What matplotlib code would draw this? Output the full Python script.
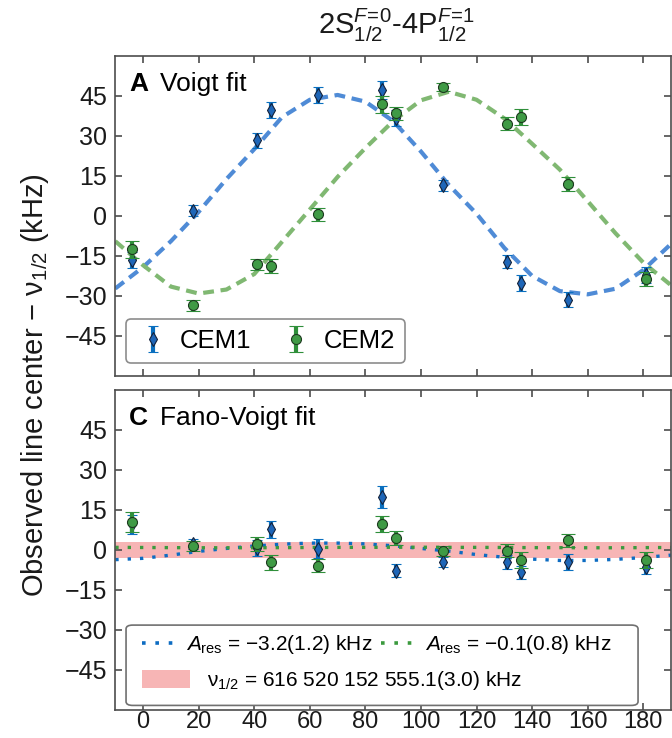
import matplotlib
matplotlib.use('Agg')
import matplotlib.pyplot as plt
from matplotlib.patches import FancyBboxPatch, Patch
from matplotlib.lines import Line2D

plt.rcParams['font.family'] = ['Liberation Sans', 'DejaVu Sans']
plt.rcParams['mathtext.fontset'] = 'custom'
plt.rcParams['mathtext.rm'] = 'Liberation Sans'
plt.rcParams['mathtext.it'] = 'Liberation Sans:italic'
plt.rcParams['mathtext.bf'] = 'Liberation Sans:bold'

# Measurement angles (deg)
angle = [-4, 18, 41, 46, 63, 86, 91, 108, 131, 136, 153, 181]

# Panel A: Voigt fit line centers (kHz)
voigt_cem1 = [-16.7, 1.9, 28.4, 39.6, 45.3, 47.1, 36.5, 11.5, -17.2, -25.1, -31.4, -22.2]
voigt_cem1_err = [3.0, 2.0, 2.8, 3.0, 3.0, 3.4, 3.0, 2.0, 2.5, 3.0, 2.8, 3.0]
voigt_cem2 = [-12.6, -33.5, -18.1, -18.7, 0.6, 41.8, 38.4, 48.1, 34.6, 36.9, 11.9, -23.7]
voigt_cem2_err = [3.3, 2.0, 2.0, 2.6, 2.5, 3.2, 2.5, 1.5, 2.5, 3.0, 2.5, 2.5]

# Panel C: Fano-Voigt fit line centers (kHz)
fano_cem1 = [9.5, 2.2, 0.5, 7.6, 0.4, 19.7, -7.8, -4.6, -4.6, -8.4, -4.6, -6.5]
fano_cem1_err = [3.5, 2.0, 3.0, 3.3, 3.5, 4.0, 2.5, 2.0, 2.5, 2.5, 3.0, 2.5]
fano_cem2 = [10.4, 1.4, 2.2, -4.6, -5.9, 9.5, 4.4, -0.5, -0.3, -4.0, 3.5, -4.0]
fano_cem2_err = [3.9, 2.0, 2.5, 2.8, 2.5, 3.0, 2.5, 2.0, 2.5, 3.0, 2.5, 3.0]

# Fit curves
fit_angle = [-10, 0, 10, 20, 30, 40, 50, 60, 70, 80, 90, 100, 110, 120, 130, 140, 150, 160, 170, 180, 190]
voigt_fit_cem1 = [-27.2, -19.2, -9.5, 1.5, 13.8, 25.0, 37.0, 43.5, 45.3, 42.8, 35.5, 24.1, 11.6, 0.8,
                  -12.0, -22.5, -28.2, -29.4, -27.3, -20.3, -10.5]
voigt_fit_cem2 = [-9.5, -18.5, -26.5, -29.1, -27.6, -21.8, -9.7, 2.4, 14.6, 25.4, 35.5, 43.3, 46.5, 43.5,
                  36.5, 27.0, 17.3, 5.5, -6.5, -17.5, -26.0]
fano_fit_cem1 = [-3.7, -3.2, -2.0, -0.6, 0.5, 1.4, 2.1, 2.5, 2.5, 2.2, 1.5, 0.5, -0.5, -1.8, -2.8, -3.5,
                 -4.0, -4.0, -3.6, -2.9, -2.0]
fano_fit_cem2 = [0.9, 0.85, 0.8, 0.75, 0.75, 0.75, 0.8, 0.85, 0.9, 0.9, 0.95, 0.95, 0.9, 0.9, 0.85, 0.8,
                 0.8, 0.75, 0.75, 0.8, 0.85]

nu_band = 3.0
yticks = [-45, -30, -15, 0, 15, 30, 45]
xticks = [0, 20, 40, 60, 80, 100, 120, 140, 160, 180]

blue = '#0a6fbf'
green = '#2f8f3a'
spine_col = '#4d4d4d'
dot_style = (0, (1, 2.7))

fig = plt.figure(figsize=(6.72, 7.38), dpi=100)
ax_a = fig.add_axes([0.1716, 0.4905, 0.827, 0.434])
ax_c = fig.add_axes([0.1716, 0.0379, 0.827, 0.4343])


def style_axes(ax):
    ax.set_xlim(-10, 190)
    ax.set_ylim(-60, 60)
    ax.set_xticks(xticks)
    ax.set_yticks(yticks)
    ax.tick_params(direction='in', top=True, right=True, length=5, width=1.2,
                   color=spine_col, labelsize=18, labelcolor='#1a1a1a')
    ax.tick_params(axis='y', pad=6)
    ax.tick_params(axis='x', pad=0.5, labelsize=17)
    for s in ax.spines.values():
        s.set_color(spine_col)
        s.set_linewidth(1.2)


def draw_points(ax, y1, e1, y2, e2):
    h1 = ax.errorbar(angle, y1, yerr=e1, fmt='d', color=blue, mfc='#1e66b8', mec='#15223a',
                     mew=0.8, ms=7.2, elinewidth=3, capsize=3.9, capthick=3.4, zorder=4)
    h2 = ax.errorbar(angle, y2, yerr=e2, fmt='o', color=green, mfc='#3f9a45', mec='#1d3a1f',
                     mew=0.8, ms=7.2, elinewidth=3, capsize=5.3, capthick=3.4, zorder=5)
    return h1, h2


# Panel A
style_axes(ax_a)
ax_a.tick_params(labelbottom=False)
ax_a.plot(fit_angle, voigt_fit_cem1, ls=(0, (2.6, 1.6)), lw=3, color='#4f8bd6', zorder=2)
ax_a.plot(fit_angle, voigt_fit_cem2, ls=(0, (2.6, 1.6)), lw=3, color='#80b872', zorder=2)
h1, h2 = draw_points(ax_a, voigt_cem1, voigt_cem1_err, voigt_cem2, voigt_cem2_err)
ax_a.text(0.025, 0.948, 'A', transform=ax_a.transAxes, fontsize=19, fontweight='bold', va='top')
ax_a.text(0.08, 0.948, 'Voigt fit', transform=ax_a.transAxes, fontsize=19, va='top')
leg = ax_a.legend([h1, h2], ['CEM1', 'CEM2'], ncol=2, loc='lower left',
                  bbox_to_anchor=(0.019, 0.04), borderaxespad=0, fontsize=18.5, frameon=True,
                  fancybox=True, handlelength=1.3, handletextpad=0.4, columnspacing=1.1,
                  borderpad=0.4)
leg.get_frame().set_edgecolor('#707070')
leg.get_frame().set_linewidth(1.2)

# Panel C
style_axes(ax_c)
ax_c.axhspan(-nu_band, nu_band, color='#f7b5b5', lw=0, zorder=1)
ax_c.plot(fit_angle, fano_fit_cem1, ls=dot_style, lw=2.4, color='#0d6cc2', zorder=2)
ax_c.plot(fit_angle, fano_fit_cem2, ls=dot_style, lw=2.4, color='#3b9a3e', zorder=2)
draw_points(ax_c, fano_cem1, fano_cem1_err, fano_cem2, fano_cem2_err)
ax_c.text(0.025, 0.948, 'C', transform=ax_c.transAxes, fontsize=19, fontweight='bold', va='top')
ax_c.text(0.08, 0.948, 'Fano-Voigt fit', transform=ax_c.transAxes, fontsize=19, va='top')

box = FancyBboxPatch((0.0193, 0.0144), 0.9213, 0.2506, boxstyle='round,pad=0,rounding_size=0.012',
                     transform=ax_c.transAxes, facecolor='white', edgecolor='#707070', lw=1.2, zorder=6)
ax_c.add_patch(box)
line_handles = [Line2D([], [], ls=dot_style, lw=2.6, color='#0d6cc2'),
                Line2D([], [], ls=dot_style, lw=2.6, color='#3b9a3e')]
leg1 = ax_c.legend(line_handles,
                   [r'$A_{\mathrm{res}}$ = −3.2(1.2) kHz', r'$A_{\mathrm{res}}$ = −0.1(0.8) kHz'],
                   ncol=2, loc='center left', bbox_to_anchor=(0.03, 0.204), fontsize=15,
                   frameon=False, borderpad=0, handlelength=1.5, handletextpad=0.6,
                   columnspacing=0.4)
leg1.set_zorder(7)
ax_c.add_artist(leg1)
leg2 = ax_c.legend([Patch(facecolor='#f7b5b5', edgecolor='none')],
                   [r'$\mathrm{\nu}_{1/2}$ = 616 520 152 555.1(3.0) kHz'],
                   loc='center left', bbox_to_anchor=(0.03, 0.092), fontsize=15, frameon=False,
                   borderpad=0, handlelength=2.3, handleheight=0.95, handletextpad=0.8)
leg2.set_zorder(7)

fig.text(0.052, 0.478, r'Observed line center − $\mathrm{\nu}_{1/2}$ (kHz)', rotation=90,
         ha='center', va='center', fontsize=21, color='#1a1a1a')
fig.text(0.59, 0.965, r'2S$_{1/2}^{F\!=\!0}$-4P$_{1/2}^{F\!=\!1}$', ha='center', va='center',
         fontsize=21, color='#1a1a1a')

fig.savefig('out.png', dpi=100)
